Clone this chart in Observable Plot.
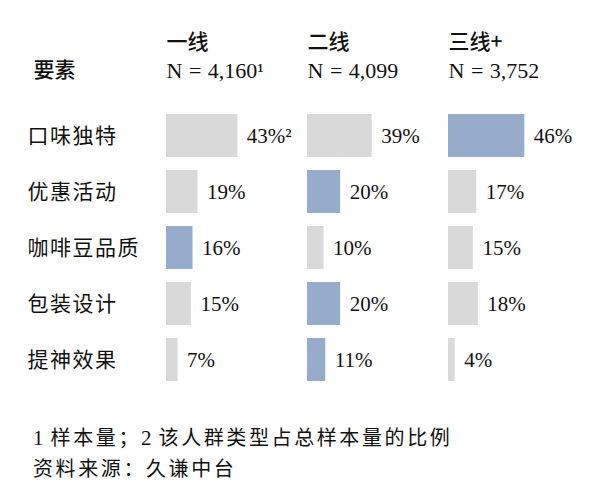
<!DOCTYPE html>
<html>
<head>
<meta charset="utf-8">
<script src="https://cdn.jsdelivr.net/npm/d3@7"></script>
<script src="https://cdn.jsdelivr.net/npm/@observablehq/plot@0.6"></script>
<style>
  body { margin: 0; background: #fff; width: 602px; height: 500px; overflow: hidden; }
  #chart svg { display: block; }
  .cap { font-family: "Noto Sans CJK SC", sans-serif; font-size: 20px; letter-spacing: 2.6px; color: #111; padding-left: 33px; line-height: 29px; }
  .cap .num { font-family: "Liberation Serif", serif; font-size: 21px; letter-spacing: 0; }
</style>
</head>
<body>
<div id="chart"></div>
<div class="cap" style="margin-top:22px">
  <div><span class="num">1</span> 样本量；<span class="num">2</span> 该人群类型占总样本量的比例</div>
  <div>资料来源：久谦中台</div>
</div>
<script>
const factors = ["口味独特", "优惠活动", "咖啡豆品质", "包装设计", "提神效果"];
const tiers = ["一线", "二线", "三线+"];
const sampleLabels = ["N = 4,160¹", "N = 4,099", "N = 3,752"];
const tier1 = [43, 19, 16, 15, 7];
const tier2 = [39, 20, 10, 20, 11];
const tier3 = [46, 17, 15, 18, 4];
const tier1Hi = [0, 0, 1, 0, 0];
const tier2Hi = [0, 1, 0, 1, 1];
const tier3Hi = [1, 0, 0, 0, 0];
const headerLabel = "要素";

const values = [tier1, tier2, tier3];
const his = [tier1Hi, tier2Hi, tier3Hi];
const rows = [];
tiers.forEach((t, i) => factors.forEach((f, j) => {
  rows.push({tier: t, factor: f, value: values[i][j], hi: his[i][j] ? "hi" : "lo",
    label: values[i][j] + "%" + (i === 0 && j === 0 ? "²" : "")});
}));
const headers = tiers.map((t, i) => ({tier: t, name: t, n: sampleLabels[i]}));

const serif = "Liberation Serif, Times New Roman, serif";
const cjk = "Noto Sans CJK SC, sans-serif";

const plot = Plot.plot({
  width: 602,
  height: 400,
  marginLeft: 166,
  marginRight: 13,
  marginTop: 101,
  marginBottom: 6,
  style: {background: "#fff", color: "#111"},
  fx: {domain: tiers, padding: 0, axis: null},
  x: {domain: [0, 85], axis: null},
  y: {domain: factors, padding: 0.232, axis: null},
  color: {domain: ["lo", "hi"], range: ["#d9d9d9", "#97abca"]},
  marks: [
    Plot.barX(rows, {fx: "tier", x: "value", y: "factor", fill: "hi"}),
    Plot.text(rows, {fx: "tier", x: "value", y: "factor", text: "label", textAnchor: "start", dx: 9,
      fontSize: 21, fontFamily: serif, fill: "#111"}),
    Plot.axisY({tickSize: 0, textAnchor: "start", dx: -130, fontSize: 21, fontFamily: cjk, label: null, fill: "#111"}),
    Plot.text(headers, {fx: "tier", text: "name", frameAnchor: "top-left", dy: -59, lineAnchor: "middle",
      textAnchor: "start", fontSize: 21, fontWeight: 500, fontFamily: cjk, fill: "#111"}),
    Plot.text(headers, {fx: "tier", text: "n", frameAnchor: "top-left", dy: -31, lineAnchor: "middle",
      textAnchor: "start", fontSize: 22, fontFamily: serif, fill: "#111"}),
    Plot.text(headers.slice(0, 1), {fx: "tier", text: () => headerLabel, frameAnchor: "top-left", dx: -133, dy: -31,
      lineAnchor: "middle", textAnchor: "start", fontSize: 21, fontWeight: 500, fontFamily: cjk, fill: "#111"})
  ]
});
document.getElementById("chart").appendChild(plot);
d3.select(plot).selectAll("g[aria-label='y-axis tick label'] text").attr("letter-spacing", "1.5px");
d3.select(plot).selectAll("g[aria-label='text'] text").filter(function() { return /^N =/.test(this.textContent); }).attr("word-spacing", "1px");
</script>
</body>
</html>
